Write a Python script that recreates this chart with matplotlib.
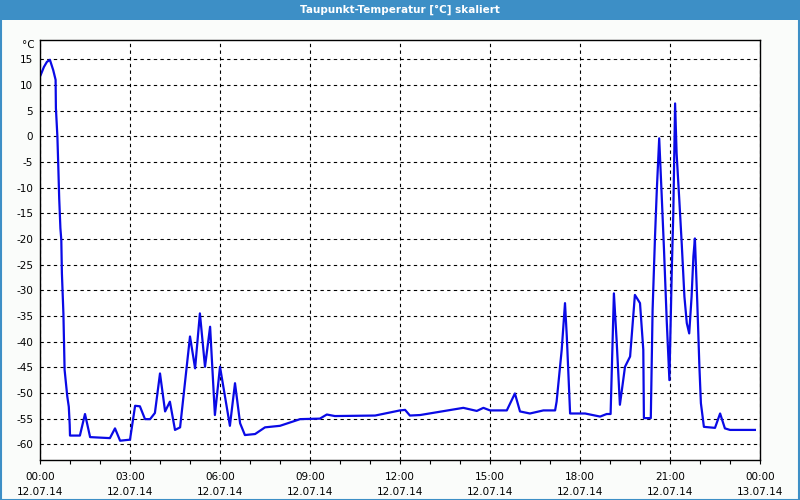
import matplotlib
matplotlib.use('Agg')
import matplotlib.pyplot as plt
from matplotlib.patches import Rectangle

# dew point readings, hours since 12.07.14 00:00
hours = [0.02, 0.13, 0.23, 0.33, 0.44, 0.52, 0.53, 0.58, 0.61, 0.64, 0.68, 0.71,
         0.73, 0.78, 0.82, 0.91, 0.96, 0.99, 1.00, 1.33, 1.50, 1.67, 2.33, 2.50,
         2.67, 3.00, 3.17, 3.33, 3.50, 3.67, 3.83, 4.00, 4.17, 4.33, 4.50, 4.67,
         5.00, 5.17, 5.33, 5.50, 5.67, 5.83, 6.00, 6.33, 6.50, 6.67, 6.83, 7.17,
         7.50, 8.00, 8.67, 9.33, 9.56, 9.83, 11.17, 12.00, 12.17, 12.33, 12.67,
         14.11, 14.56, 14.78, 15.00, 15.56, 15.83, 16.00, 16.33, 16.78, 17.17,
         17.22, 17.39, 17.50, 17.56, 17.67, 18.17, 18.67, 18.89, 19.02, 19.13,
         19.22, 19.33, 19.50, 19.67, 19.83, 20.00, 20.11, 20.13, 20.36, 20.42,
         20.50, 20.56, 20.64, 20.72, 20.80, 20.89, 20.98, 21.06, 21.11, 21.17,
         21.22, 21.31, 21.39, 21.48, 21.56, 21.64, 21.72, 21.78, 21.83, 21.91,
         21.98, 22.03, 22.13, 22.50, 22.67, 22.83, 23.00, 23.83]
taupunkt = [11.9, 13.5, 14.5, 14.9, 12.9, 11.0, 5.5, -0.1, -5.9, -12.1, -17.9, -20.2,
            -26.7, -34.5, -45.5, -50.7, -52.7, -56.2, -58.3, -58.3, -54.1, -58.6, -58.8, -56.9,
            -59.3, -59.1, -52.5, -52.6, -55.1, -55.1, -53.9, -46.2, -53.6, -51.7, -57.2, -56.7,
            -39.0, -45.2, -34.5, -44.9, -37.1, -54.3, -44.9, -56.4, -48.1, -55.9, -58.2, -58.0,
            -56.7, -56.4, -55.1, -55.0, -54.2, -54.5, -54.4, -53.4, -53.3, -54.4, -54.3,
            -52.9, -53.5, -52.9, -53.4, -53.4, -50.1, -53.6, -54.0, -53.4, -53.4,
            -51.7, -41.6, -32.5, -39.0, -54.0, -54.0, -54.6, -54.1, -54.1, -30.6,
            -39.7, -52.3, -44.9, -42.9, -30.9, -32.5, -41.6, -54.9, -54.9, -33.8,
            -19.6, -10.5, -0.4, -11.1, -22.1, -35.8, -47.5, -26.0, -15.0, 6.4,
            -3.3, -12.4, -20.8, -31.2, -36.4, -38.4, -31.2, -23.4, -19.9, -32.5,
            -44.9, -52.0, -56.6, -56.8, -54.0, -56.9, -57.2, -57.2]

xticks = [0, 3, 6, 9, 12, 15, 18, 21, 24]
xlabels = ['00:00\n12.07.14', '03:00\n12.07.14', '06:00\n12.07.14', '09:00\n12.07.14',
           '12:00\n12.07.14', '15:00\n12.07.14', '18:00\n12.07.14', '21:00\n12.07.14',
           '00:00\n13.07.14']
yticks = list(range(-60, 20, 5))

bar_blue = '#3d8fc6'
fig = plt.figure(figsize=(8, 5), dpi=100, facecolor='#fafcfa')

# title bar and outer frame
fig.patches.append(Rectangle((0, 0.96), 1, 0.04, transform=fig.transFigure,
                             facecolor=bar_blue, edgecolor='none'))
fig.patches.append(Rectangle((0.001, 0.001), 0.998, 0.998, transform=fig.transFigure,
                             facecolor='none', edgecolor=bar_blue, linewidth=1.5))
fig.text(0.5, 0.98, 'Taupunkt-Temperatur [°C] skaliert', color='white',
         ha='center', va='center', fontsize=7.5, fontweight='bold')

ax = fig.add_axes([0.05, 0.08, 0.90, 0.84])
ax.plot(hours, taupunkt, color='#0a0ae6', linewidth=1.6)
ax.set_xlim(0, 24)
ax.set_ylim(-63.06, 18.76)

ax.set_xticks(xticks)
ax.set_xticklabels(xlabels, fontsize=7.5, linespacing=1.55)
ax.set_xticks(range(25), minor=True)
ax.set_yticks(yticks)
ax.set_yticklabels([str(v) for v in yticks], fontsize=7.5)
ax.tick_params(axis='x', which='both', direction='out', length=3, width=0.8, pad=6)
ax.tick_params(axis='y', length=0, pad=5)

ax.grid(True, color='black', linestyle=(0, (3, 3)), linewidth=0.8)
for s in ax.spines.values():
    s.set_linewidth(1)
ax.text(-0.008, 1.0 - 5 / 420, '°C', transform=ax.transAxes, ha='right', va='center',
        fontsize=7.5)

fig.savefig('out.png', dpi=100, facecolor=fig.get_facecolor())
